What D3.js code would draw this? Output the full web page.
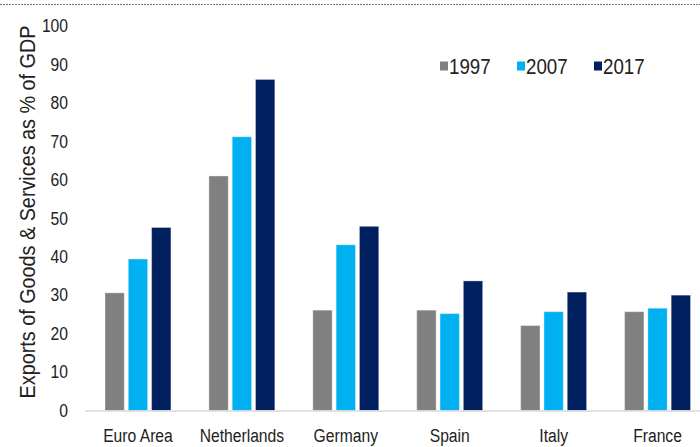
<!DOCTYPE html>
<meta charset="utf-8">
<head>
<style>
body { margin: 0; background: #fff; }
svg text {
  font-family: "Liberation Sans", Arial, sans-serif;
  fill: #222;
}
</style>
<script src="https://d3js.org/d3.v7.min.js"></script>
</head>
<body>
<svg width="700" height="447"></svg>
<script>

// data
var countries = ["Euro Area", "Netherlands", "Germany", "Spain", "Italy", "France"];
var years = ["1997", "2007", "2017"];
var v1997 = [30.6, 61.0, 26.1, 26.1, 22.1, 25.7];
var v2007 = [39.4, 71.2, 43.1, 25.2, 25.7, 26.6];
var v2017 = [47.6, 86.1, 47.9, 33.7, 30.8, 30.0];
var yTicks = [0, 10, 20, 30, 40, 50, 60, 70, 80, 90, 100];
var colors = ["#808080", "#00b0f0", "#002060"];
var yTitle = "Exports of Goods & Services as % of GDP";

// the original uses a condensed face; squeeze Liberation Sans horizontally
var squeeze = 0.87;

var series = [v1997, v2007, v2017];
var rows = countries.map(function(c, i) {
  return { country: c, values: years.map(function(y, j) { return { year: y, value: series[j][i] }; }) };
});

var svg = d3.select("svg"),
    width = +svg.attr("width"),
    height = +svg.attr("height");

function narrow(sel) {
  sel.each(function() {
    var t = d3.select(this);
    var x = +(t.attr("x") || 0);
    t.attr("x", x / squeeze)
     .attr("transform", "scale(" + squeeze + ",1)");
  });
}

// dotted frame line at the top
svg.append("line")
    .attr("x1", 0).attr("x2", width)
    .attr("y1", 4.5).attr("y2", 4.5)
    .attr("stroke", "#777")
    .attr("stroke-width", 1.2)
    .attr("stroke-dasharray", "2,1");

var x0 = d3.scaleBand()
    .domain(countries)
    .range([86, 709.5]);

var x1 = d3.scaleBand()
    .domain(years)
    .range([0, x0.bandwidth()])
    .paddingInner(0.17)
    .paddingOuter(0.815);

var y = d3.scaleLinear()
    .domain([0, 100])
    .range([410.5, 26]);

var color = d3.scaleOrdinal().domain(years).range(colors);

// y axis labels, no line
var yAxis = svg.append("g")
    .attr("transform", "translate(86,0)")
    .call(d3.axisLeft(y).tickValues(yTicks).tickSize(0).tickPadding(18));
yAxis.select(".domain").remove();
yAxis.selectAll("text")
    .attr("font-size", "18px")
    .style("font-family", "\"Liberation Sans\", Arial, sans-serif")
    .attr("fill", "#222")
    .call(narrow);

svg.append("text")
    .attr("transform", "translate(27,212) rotate(-90) scale(0.88,1)")
    .attr("text-anchor", "middle")
    .attr("dy", "0.35em")
    .attr("font-size", "22.5px")
    .text(yTitle);

// bars
var group = svg.append("g")
  .selectAll("g")
  .data(rows)
  .enter().append("g")
    .attr("transform", function(d) { return "translate(" + x0(d.country) + ",0)"; });

group.selectAll("rect")
  .data(function(d) { return d.values; })
  .enter().append("rect")
    .attr("x", function(d) { return x1(d.year); })
    .attr("y", function(d) { return y(d.value); })
    .attr("width", x1.bandwidth())
    .attr("height", function(d) { return y(0) - y(d.value); })
    .attr("fill", function(d) { return color(d.year); })
    .attr("stroke", "#fff")
    .attr("stroke-opacity", 0.35)
    .attr("stroke-width", 1);

// baseline
svg.append("line")
    .attr("x1", 85).attr("x2", width)
    .attr("y1", y(0) + 0.5).attr("y2", y(0) + 0.5)
    .attr("stroke", "#d9d9d9")
    .attr("stroke-width", 1.5);

// x labels
var xAxis = svg.append("g")
    .attr("transform", "translate(0," + y(0) + ")")
    .call(d3.axisBottom(x0).tickSize(0).tickPadding(19));
xAxis.select(".domain").remove();
xAxis.selectAll("text")
    .attr("font-size", "18px")
    .style("font-family", "\"Liberation Sans\", Arial, sans-serif")
    .attr("fill", "#222")
    .call(narrow);

// legend
var legend = svg.append("g")
  .selectAll("g")
  .data(years)
  .enter().append("g")
    .attr("transform", function(d, i) { return "translate(" + (440 + i * 77) + ",66)"; });

legend.append("rect")
    .attr("x", 0).attr("y", -4.5)
    .attr("width", 8).attr("height", 9)
    .attr("fill", function(d) { return color(d); });

legend.append("text")
    .attr("x", 9)
    .attr("dy", "0.35em")
    .attr("font-size", "21.5px")
    .text(function(d) { return d; })
    .call(narrow);

</script>
</body>
